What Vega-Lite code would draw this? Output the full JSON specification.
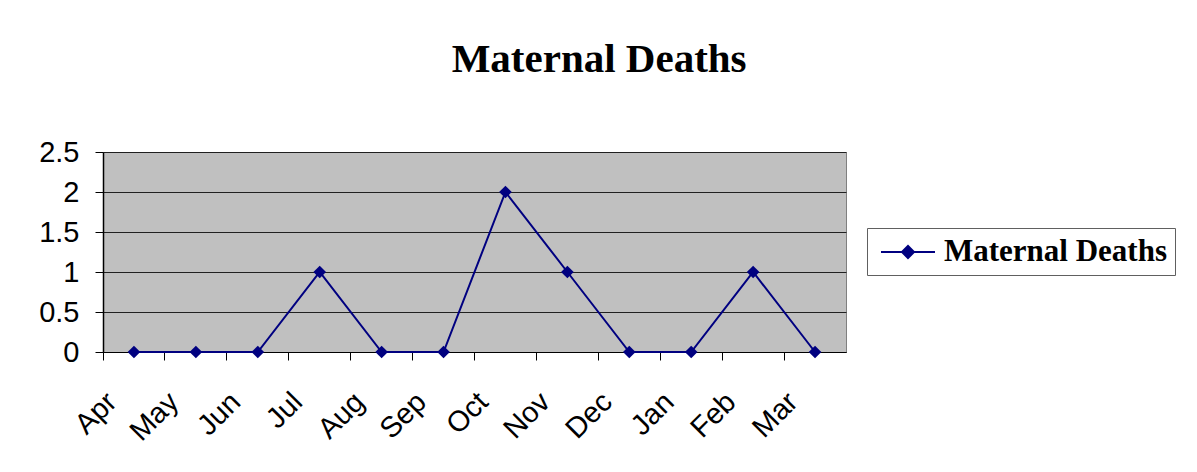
{
  "$schema": "https://vega.github.io/schema/vega-lite/v6.json",
  "autosize": {"type": "none"},
  "width": 743,
  "height": 200,
  "padding": {"left": 103, "top": 152, "right": 351, "bottom": 120},
  "background": "white",
  "title": {
    "text": "Maternal Deaths",
    "font": "Liberation Serif",
    "fontSize": 41,
    "fontWeight": "bold",
    "color": "black",
    "anchor": "middle",
    "frame": "bounds",
    "baseline": "alphabetic",
    "offset": 25,
    "dx": -8
  },
  "config": {
    "view": {"fill": "#C0C0C0", "stroke": "#808080", "strokeWidth": 1},
    "axis": {
      "labelFont": "Liberation Sans",
      "labelFontSize": 29,
      "labelColor": "black",
      "domainColor": "black",
      "tickColor": "black",
      "tickSize": 8,
      "title": null
    }
  },
  "data": {
    "values": [
      {"month": "Apr", "deaths": 0, "series": "Maternal Deaths"},
      {"month": "May", "deaths": 0, "series": "Maternal Deaths"},
      {"month": "Jun", "deaths": 0, "series": "Maternal Deaths"},
      {"month": "Jul", "deaths": 1, "series": "Maternal Deaths"},
      {"month": "Aug", "deaths": 0, "series": "Maternal Deaths"},
      {"month": "Sep", "deaths": 0, "series": "Maternal Deaths"},
      {"month": "Oct", "deaths": 2, "series": "Maternal Deaths"},
      {"month": "Nov", "deaths": 1, "series": "Maternal Deaths"},
      {"month": "Dec", "deaths": 0, "series": "Maternal Deaths"},
      {"month": "Jan", "deaths": 0, "series": "Maternal Deaths"},
      {"month": "Feb", "deaths": 1, "series": "Maternal Deaths"},
      {"month": "Mar", "deaths": 0, "series": "Maternal Deaths"}
    ]
  },
  "mark": {
    "type": "line",
    "strokeWidth": 2,
    "point": {"shape": "diamond", "size": 160, "filled": true, "opacity": 1}
  },
  "encoding": {
    "x": {
      "field": "month",
      "type": "ordinal",
      "sort": null,
      "scale": {"type": "band", "paddingInner": 0, "paddingOuter": 0},
      "axis": {
        "bandPosition": 0,
        "labelAngle": -45,
        "labelAlign": "right",
        "labelBaseline": "middle",
        "labelPadding": 37,
        "labelOffset": -22,
        "grid": false,
        "domainWidth": 1
      }
    },
    "y": {
      "field": "deaths",
      "type": "quantitative",
      "scale": {"domain": [0, 2.5], "nice": false},
      "axis": {
        "values": [0, 0.5, 1, 1.5, 2, 2.5],
        "format": "~g",
        "grid": true,
        "gridColor": "#202020",
        "gridOpacity": 1,
        "labelPadding": 16,
        "domainWidth": 1.5
      }
    },
    "color": {
      "field": "series",
      "type": "nominal",
      "scale": {"range": ["#000080"]},
      "legend": {
        "orient": "none",
        "legendX": 764,
        "legendY": 76,
        "title": null,
        "strokeColor": "#606060",
        "fillColor": "white",
        "padding": 8,
        "labelFont": "Liberation Serif",
        "labelFontSize": 31,
        "labelFontWeight": "bold",
        "labelColor": "black",
        "labelLimit": 400,
        "labelOffset": 20,
        "symbolOffset": 17,
        "symbolType": "M-1.8,0H1.8M-0.4,0L0,-0.4L0.4,0L0,0.4Z",
        "symbolSize": 900,
        "symbolFillColor": "#000080",
        "symbolStrokeColor": "#000080",
        "symbolStrokeWidth": 2,
        "symbolOpacity": 1
      }
    }
  }
}
